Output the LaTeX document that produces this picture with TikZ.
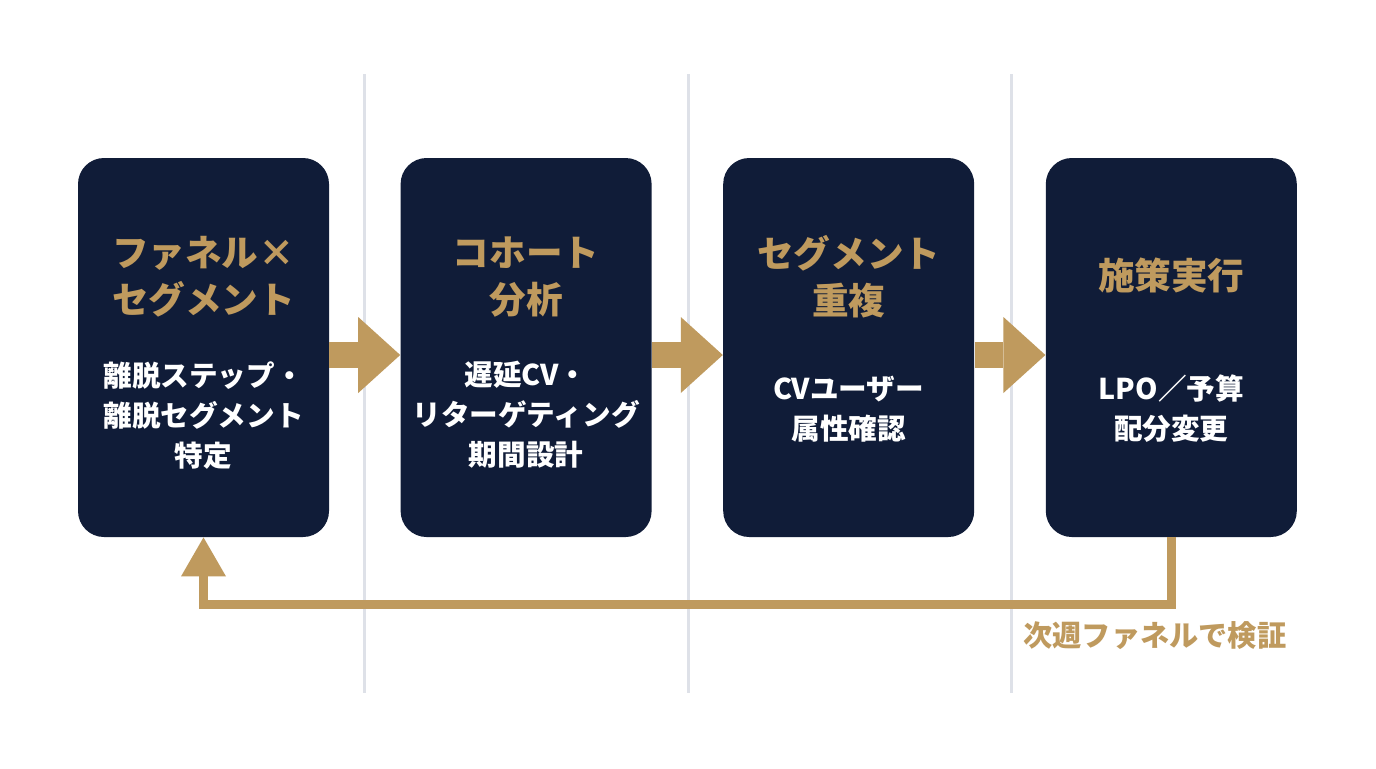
\documentclass[tikz,border=0pt]{standalone}
\usepackage{fontspec}
\setmainfont{Noto Sans CJK JP}
\usetikzlibrary{arrows.meta, positioning, calc}
\definecolor{navy}{RGB}{16,28,56}
\definecolor{gold}{RGB}{191,154,94}
\definecolor{rulegray}{RGB}{222,225,232}

\begin{document}
\begin{tikzpicture}[
    x=0.5pt, y=-0.5pt,
    stage/.style={rectangle, rounded corners=13pt, fill=navy, minimum width=125.5pt, minimum height=189.5pt, inner sep=0pt},
    stagetitle/.style={text=gold, font=\fontsize{18.3pt}{23.5pt}\selectfont\bfseries, align=center},
    stagebody/.style={text=white, font=\fontsize{14.3pt}{20pt}\selectfont\bfseries, align=center},
    flow/.style={gold, line width=13pt, -{Triangle[length=21pt, width=38pt, line width=0pt]}},
    feedback/.style={gold, line width=4.5pt, -{Triangle[length=19.5pt, width=22.5pt, line width=0pt]}},
    divider/.style={rulegray, line width=1.5pt},
    node distance=35.4pt,
]
\fill[white] (0,0) rectangle (1376,768);
\useasboundingbox (0,0) rectangle (1376,768);

% separators between the stages
\foreach \x in {364.5, 688, 1011.5}
    \draw[divider] (\x,74) -- (\x,693);

\node[stage] (funnel) at (203.5,347.5) {};
\node[stage, right=of funnel] (cohort) {};
\node[stage, right=of cohort] (overlap) {};
\node[stage, right=of overlap] (action) {};

\node[stagetitle] (funnelT)  at ($(funnel)+(0,-70.5)$)  {ファネル×\\セグメント};
\node[stagetitle] (cohortT)  at ($(cohort)+(0,-70.5)$)  {コホート\\分析};
\node[stagetitle] (overlapT) at ($(overlap)+(0,-70.5)$) {セグメント\\重複};
\node[stagetitle] (actionT)  at ($(action)+(0,-72.5)$)  {施策実行};

\node[stagebody] (funnelB)  at ($(funnel)+(0,68.5)$)  {離脱ステップ・\\離脱セグメント\\特定};
\node[stagebody] (cohortB)  at ($(cohort)+(0,67.5)$)  {遅延CV・\\リターゲティング\\期間設計};
\node[stagebody] (overlapB) at ($(overlap)+(0,61.5)$) {CVユーザー\\属性確認};
\node[stagebody] (actionB)  at ($(action)+(0,61.5)$)  {LPO／予算\\配分変更};

% arrows sit a little below the box centres
\draw[flow] ($(funnel.east)+(0,7.5)$)  -- ($(cohort.west)+(0,7.5)$);
\draw[flow] ($(cohort.east)+(0,7.5)$)  -- ($(overlap.west)+(0,7.5)$);
\draw[flow] ($(overlap.east)+(0,7.5)$) -- ($(action.west)+(0,7.5)$);

\draw[feedback] (action.south) -- ++(0,67) -| (funnel.south);
\node[anchor=west, inner sep=0pt, text=gold, font=\fontsize{14.6pt}{17pt}\selectfont\bfseries] (verify) at (1023,636) {次週ファネルで検証};
\end{tikzpicture}
\end{document}
